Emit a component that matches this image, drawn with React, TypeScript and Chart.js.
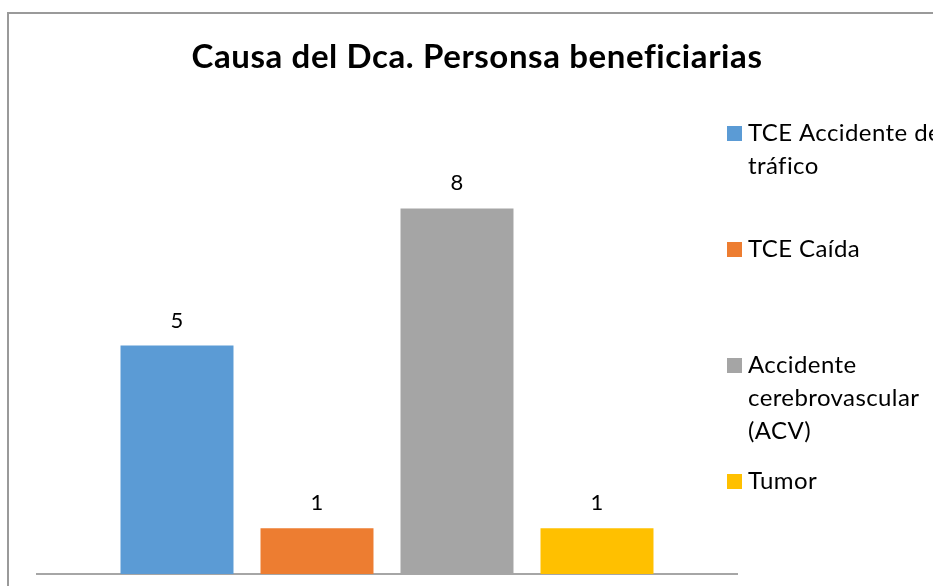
import React, { useEffect, useRef } from "react";
import { Chart, registerables } from "chart.js";

Chart.register(...registerables);

const TITLE = "Causa del Dca. Personsa beneficiarias";
const CATEGORIES = [""];
const SERIES_LABELS = [
  "TCE Accidente de tráfico",
  "TCE Caída",
  "Accidente cerebrovascular (ACV)",
  "Tumor",
];
const SERIES_VALUES = [5, 1, 8, 1];
const SERIES_COLORS = ["#5b9bd5", "#ed7d31", "#a5a5a5", "#ffc000"];

const FONT = "Lato, 'Open Sans', sans-serif";

const titlePlugin = {
  id: "customTitle",
  afterDraw(chart: any) {
    const ctx = chart.ctx;
    ctx.save();
    ctx.font = `bold 33px ${FONT}`;
    (ctx as any).letterSpacing = "0.6px";
    ctx.fillStyle = "#000";
    ctx.textAlign = "center";
    ctx.textBaseline = "middle";
    ctx.fillText(TITLE, 477, 57);
    ctx.restore();
  },
};

const dataLabelPlugin = {
  id: "dataLabels",
  afterDatasetsDraw(chart: any) {
    const ctx = chart.ctx;
    ctx.save();
    ctx.font = `22px ${FONT}`;
    ctx.fillStyle = "#000";
    ctx.textAlign = "center";
    ctx.textBaseline = "middle";
    chart.data.datasets.forEach((ds: any, i: number) => {
      const meta = chart.getDatasetMeta(i);
      meta.data.forEach((el: any, j: number) => {
        ctx.fillText(String(ds.data[j]), el.x, el.y - 25);
      });
    });
    ctx.restore();
  },
};

const legendPlugin = {
  id: "sideLegend",
  afterDraw(chart: any) {
    const ctx = chart.ctx;
    const tops = [133, 249, 365, 481];
    const lineH = 33;
    const textX = 748;
    const boxX = 727;
    const maxW = 205;
    ctx.save();
    ctx.font = `24px ${FONT}`;
    (ctx as any).letterSpacing = "0.4px";
    ctx.textBaseline = "middle";
    ctx.textAlign = "left";
    chart.data.datasets.forEach((ds: any, i: number) => {
      const words = String(ds.label).split(" ");
      const lines: string[] = [];
      let cur = "";
      words.forEach((w) => {
        const test = cur ? cur + " " + w : w;
        if (cur && ctx.measureText(test).width > maxW) {
          lines.push(cur);
          cur = w;
        } else cur = test;
      });
      if (cur) lines.push(cur);
      const y0 = tops[i];
      ctx.fillStyle = ds.backgroundColor;
      ctx.fillRect(boxX, y0 - 7, 15, 15);
      ctx.fillStyle = "#000";
      lines.forEach((ln, k) => ctx.fillText(ln, textX, y0 + k * lineH));
    });
    ctx.restore();
  },
};

export default function App() {
  const ref = useRef<HTMLCanvasElement>(null);
  useEffect(() => {
    if (!ref.current) return;
    const chart = new Chart(ref.current, {
      type: "bar",
      data: {
        labels: CATEGORIES,
        datasets: SERIES_LABELS.map((label, i) => ({
          label,
          data: [SERIES_VALUES[i]],
          backgroundColor: SERIES_COLORS[i],
          barPercentage: 0.807,
          categoryPercentage: 0.8,
        })),
      },
      options: {
        animation: false,
        responsive: false,
        maintainAspectRatio: false,
        layout: { padding: { left: 37, right: 196, top: 117, bottom: 12 } },
        plugins: {
          legend: { display: false },
          tooltip: { enabled: false },
          title: { display: false },
        },
        scales: {
          x: {
            grid: { display: false, drawTicks: false },
            ticks: { display: false },
            border: { display: true, color: "#a6a6a6", width: 2 },
          },
          y: {
            display: false,
            min: 0,
            max: 10,
          },
        },
      },
      plugins: [dataLabelPlugin, legendPlugin, titlePlugin],
    });
    return () => chart.destroy();
  }, []);
  return (
    <div style={{ position: "fixed", left: 0, top: 0, width: 933, height: 586, background: "#fff", overflow: "hidden" }}>
      <div
        style={{
          position: "absolute",
          left: 7,
          top: 12,
          width: 1000,
          height: 1000,
          borderLeft: "2px solid #9a9a9a",
          borderTop: "2px solid #9a9a9a",
        }}
      />
      <canvas ref={ref} width={933} height={586} style={{ position: "absolute", left: 0, top: 0 }} />
    </div>
  );
}
